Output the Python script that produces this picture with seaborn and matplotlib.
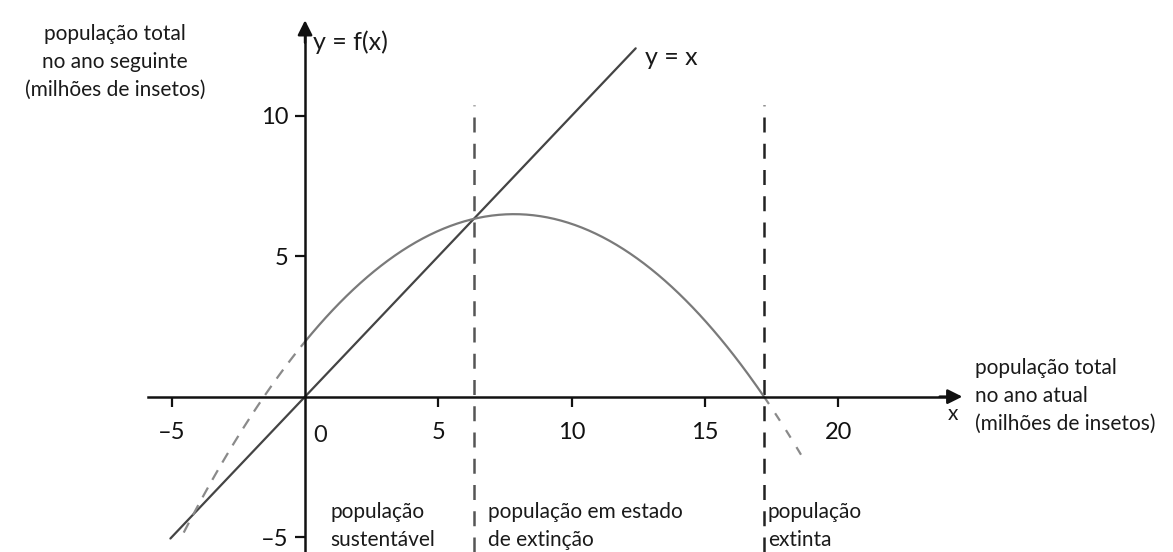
import numpy as np
import pandas as pd
import matplotlib
matplotlib.use("Agg")
import matplotlib.pyplot as plt
import seaborn as sns

# Population model f(x) = a*x^2 + b*x + c  (millions of insects)
coef_a = -0.0739
coef_b = 1.158
coef_c = 1.96

# Axis ticks
xticks = [-5, 5, 10, 15, 20]
yticks = [-5, 5, 10]

# Extent of drawn curves
parab_left_start = -4.55
parab_right_end = 18.6
identity_range = [-5.05, 12.4]
guide_top = 10.4

label_y_axis = "população total\nno ano seguinte\n(milhões de insetos)"
label_x_axis = "população total\nno ano atual\n(milhões de insetos)"
region_labels = ["população\nsustentável", "população em estado\nde extinção", "população\nextinta"]

sns.set_theme(style="white")
plt.rcParams["font.family"] = ["Lato", "DejaVu Sans"]


def f(x):
    return coef_a * x**2 + coef_b * x + coef_c


# fixed points: f(x) = x  and f(x) = 0
disc1 = (coef_b - 1) ** 2 - 4 * coef_a * coef_c
x_eq = (-(coef_b - 1) - np.sqrt(disc1)) / (2 * coef_a)
disc0 = coef_b**2 - 4 * coef_a * coef_c
x_zero = (-coef_b - np.sqrt(disc0)) / (2 * coef_a)

fig = plt.figure(figsize=(11.73, 5.52), dpi=100)
ax = fig.add_axes([0, 0, 1, 1])
ax.set_xlim(-11.44, 32.55)
ax.set_ylim(-5.53, 14.12)
ax.set_facecolor("white")

# Axes through the origin
for side in ["top", "right"]:
    ax.spines[side].set_visible(False)
ax.spines["left"].set_position(("data", 0))
ax.spines["bottom"].set_position(("data", 0))
ax.spines["left"].set_bounds(-5.53, 13.0)
ax.spines["bottom"].set_bounds(-5.9, 24.2)
for side in ["left", "bottom"]:
    ax.spines[side].set_linewidth(1.8)
    ax.spines[side].set_color("#111111")

ax.set_xticks(xticks)
ax.set_xticklabels([f"{t}".replace("-", "\u2013") for t in xticks])
ax.set_yticks(yticks)
ax.set_yticklabels([f"{t}".replace("-", "\u2013") for t in yticks])
ax.tick_params(axis="x", direction="out", length=7.2, width=1.6, pad=11,
               labelsize=17, colors="#111111", bottom=True)
ax.tick_params(axis="y", direction="out", length=7.2, width=1.6, pad=5,
               labelsize=17, colors="#111111", left=True)
ax.grid(False)

# Arrow heads
ax.annotate("", xy=(24.65, 0), xytext=(23.8, 0),
            arrowprops=dict(arrowstyle="-|>", color="#111111", lw=1.8,
                            mutation_scale=22, shrinkA=0, shrinkB=0))
ax.annotate("", xy=(0, 13.4), xytext=(0, 12.6),
            arrowprops=dict(arrowstyle="-|>", color="#111111", lw=1.8,
                            mutation_scale=22, shrinkA=0, shrinkB=0))

# Vertical guides at the fixed points
for xv, col in [(x_eq, "#555555"), (x_zero, "#222222")]:
    ax.plot([xv, xv], [-5.53, guide_top], color=col, lw=1.8,
            linestyle=(0, (6, 4.5)))

# y = x
ident = pd.DataFrame({"x": identity_range, "y": identity_range})
sns.lineplot(data=ident, x="x", y="y", ax=ax, color="#444444", linewidth=1.6)

# f(x): solid on [0, root], dashed outside
xs = np.linspace(0, x_zero, 200)
sns.lineplot(x=xs, y=f(xs), ax=ax, color="#7a7a7a", linewidth=1.6, sort=False)
xl = np.linspace(parab_left_start, 0, 60)
sns.lineplot(x=xl, y=f(xl), ax=ax, color="#8a8a8a", linewidth=1.6, sort=False,
             linestyle=(0, (5, 4)))
xr = np.linspace(x_zero, parab_right_end, 30)
sns.lineplot(x=xr, y=f(xr), ax=ax, color="#8a8a8a", linewidth=1.6, sort=False,
             linestyle=(0, (4, 5)))
ax.set_xlabel("")
ax.set_ylabel("")

txt = dict(color="#1a1a1a")
ax.text(0.56, -1.37, "0", fontsize=17, ha="center", va="center", **txt)
ax.text(0.3, 12.62, "y = f(x)", fontsize=18, ha="left", va="center", **txt)
ax.text(12.75, 12.09, "y = x", fontsize=18, ha="left", va="center", **txt)
ax.text(24.3, -0.62, "x", fontsize=15, ha="center", va="center", **txt)
ax.text(-7.12, 11.91, label_y_axis, fontsize=15, ha="center", va="center",
        linespacing=1.5, **txt)
ax.text(25.12, 0.02, label_x_axis, fontsize=15, ha="left", va="center",
        linespacing=1.5, **txt)
for xpos, lab in zip([0.94, 6.86, 17.36], region_labels):
    ax.text(xpos, -4.6, lab, fontsize=15, ha="left", va="center",
            linespacing=1.5, **txt)

fig.savefig("out.png", dpi=100, facecolor="white")
